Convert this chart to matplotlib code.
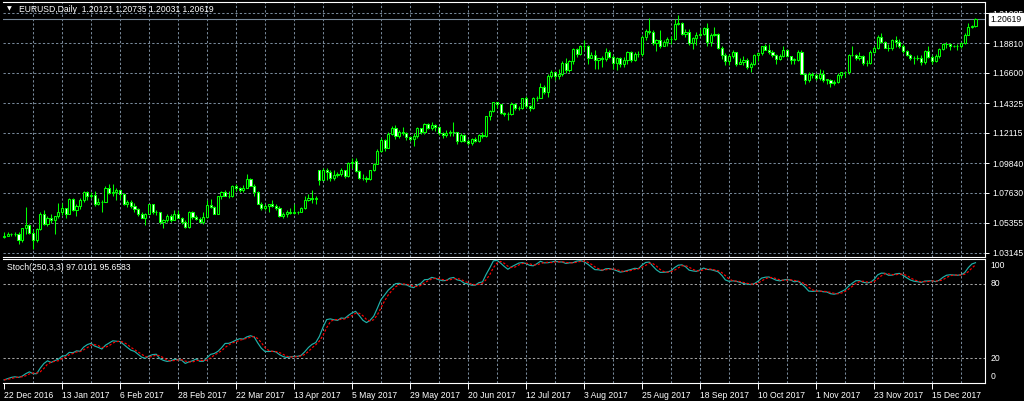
import matplotlib
matplotlib.use("Agg")
import matplotlib.pyplot as plt
import matplotlib.transforms as mtransforms
import numpy as np
import pandas as pd

# ---------------- data ----------------
symbol_title = "EURUSD,Daily  1.20121 1.20735 1.20031 1.20619"
stoch_title = "Stoch(250,3,3) 97.0101 95.6583"
date_labels = ["22 Dec 2016", "13 Jan 2017", "6 Feb 2017", "28 Feb 2017", "22 Mar 2017",
               "13 Apr 2017", "5 May 2017", "29 May 2017", "20 Jun 2017", "12 Jul 2017",
               "3 Aug 2017", "25 Aug 2017", "18 Sep 2017", "10 Oct 2017", "1 Nov 2017",
               "23 Nov 2017", "15 Dec 2017"]
price_ticks = [1.21085, 1.18810, 1.16600, 1.14325, 1.12115, 1.09840, 1.07630, 1.05355, 1.03145]
last_price = 1.20619
stoch_levels = [20, 80]

opens = [
1.0430,1.0440,1.0455,1.0456,1.0450,1.0410,1.0495,1.0517,1.0460,1.0405,
1.0487,1.0605,1.0530,1.0570,1.0555,1.0585,1.0615,1.0645,1.0605,1.0715,
1.0635,1.0660,1.0705,1.0765,1.0735,1.0745,1.0680,1.0695,1.0695,1.0798,
1.0760,1.0765,1.0785,1.0750,1.0680,1.0690,1.0665,1.0640,1.0600,1.0575,
1.0605,1.0675,1.0615,1.0615,1.0540,1.0560,1.0585,1.0560,1.0605,1.0575,
1.0545,1.0505,1.0620,1.0580,1.0565,1.0545,1.0580,1.0670,1.0655,1.0605,
1.0735,1.0765,1.0740,1.0740,1.0810,1.0795,1.0780,1.0800,1.0865,1.0815,
1.0765,1.0675,1.0650,1.0665,1.0675,1.0660,1.0645,1.0590,1.0600,1.0615,
1.0610,1.0615,1.0615,1.0645,1.0705,1.0720,1.0715,1.0935,1.0860,1.0930,
1.0920,1.0870,1.0895,1.0905,1.0930,1.0885,1.0985,1.1000,1.0925,1.0875,
1.0870,1.0865,1.0935,1.0980,1.1075,1.1160,1.1100,1.1205,1.1245,1.1185,
1.1215,1.1210,1.1180,1.1165,1.1185,1.1245,1.1215,1.1280,1.1250,1.1270,
1.1255,1.1210,1.1195,1.1210,1.1215,1.1215,1.1150,1.1195,1.1150,1.1135,
1.1165,1.1150,1.1195,1.1185,1.1335,1.1375,1.1440,1.1425,1.1360,1.1350,
1.1350,1.1425,1.1400,1.1400,1.1470,1.1415,1.1395,1.1470,1.1475,1.1555,
1.1515,1.1635,1.1665,1.1640,1.1650,1.1735,1.1680,1.1750,1.1840,1.1800,
1.1860,1.1865,1.1775,1.1795,1.1755,1.1770,1.1765,1.1820,1.1780,1.1735,
1.1770,1.1725,1.1760,1.1815,1.1760,1.1805,1.1800,1.1925,1.1975,1.1965,
1.1885,1.1905,1.1860,1.1890,1.1915,1.1915,1.2025,1.2035,1.1950,1.1965,
1.1885,1.1920,1.1945,1.1950,1.1995,1.1890,1.1940,1.1950,1.1845,1.1795,
1.1750,1.1785,1.1815,1.1730,1.1745,1.1760,1.1705,1.1730,1.1795,1.1810,
1.1860,1.1835,1.1820,1.1795,1.1765,1.1790,1.1835,1.1785,1.1760,1.1760,
1.1815,1.1655,1.1610,1.1650,1.1645,1.1620,1.1655,1.1610,1.1610,1.1585,
1.1590,1.1645,1.1665,1.1665,1.1795,1.1795,1.1770,1.1790,1.1735,1.1735,
1.1820,1.1850,1.1930,1.1895,1.1845,1.1845,1.1905,1.1895,1.1865,1.1825,
1.1795,1.1770,1.1770,1.1775,1.1740,1.1825,1.1780,1.1750,1.1785,1.1840,
1.1875,1.1875,1.1860,1.1865,1.1860,1.1885,1.1945,1.2005,1.20121]

highs = [
1.0470,1.0468,1.0460,1.0465,1.0470,1.0500,1.0653,1.0525,1.0485,1.0495,
1.0615,1.0630,1.0585,1.0605,1.0570,1.0685,1.0685,1.0650,1.0720,1.0720,
1.0680,1.0720,1.0775,1.0775,1.0770,1.0775,1.0725,1.0710,1.0810,1.0830,
1.0829,1.0795,1.0785,1.0760,1.0710,1.0705,1.0685,1.0650,1.0620,1.0610,
1.0680,1.0680,1.0630,1.0620,1.0565,1.0600,1.0600,1.0630,1.0630,1.0580,
1.0560,1.0625,1.0625,1.0595,1.0580,1.0615,1.0710,1.0715,1.0665,1.0740,
1.0775,1.0785,1.0775,1.0820,1.0825,1.0805,1.0820,1.0906,1.0875,1.0825,
1.0775,1.0690,1.0675,1.0680,1.0705,1.0680,1.0665,1.0620,1.0630,1.0650,
1.0675,1.0625,1.0655,1.0735,1.0750,1.0780,1.0740,1.0935,1.0950,1.0945,
1.0935,1.0935,1.0920,1.0950,1.0935,1.0990,1.1020,1.1025,1.0930,1.0905,
1.0885,1.0935,1.0985,1.1090,1.1170,1.1165,1.1215,1.1265,1.1268,1.1235,
1.1255,1.1215,1.1190,1.1210,1.1255,1.1250,1.1285,1.1285,1.1295,1.1280,
1.1260,1.1215,1.1230,1.1230,1.1295,1.1220,1.1210,1.1200,1.1165,1.1175,
1.1180,1.1205,1.1215,1.1340,1.1385,1.1445,1.1445,1.1430,1.1365,1.1365,
1.1440,1.1435,1.1415,1.1475,1.1490,1.1420,1.1480,1.1490,1.1585,1.1570,
1.1650,1.1680,1.1670,1.1690,1.1750,1.1775,1.1755,1.1845,1.1845,1.1870,
1.1910,1.1870,1.1815,1.1830,1.1775,1.1790,1.1845,1.1835,1.1795,1.1780,
1.1780,1.1780,1.1825,1.1825,1.1815,1.1825,1.1940,1.1985,1.2070,1.1980,
1.1915,1.1980,1.1905,1.1925,1.1935,1.2060,1.2092,1.2040,1.1985,1.1985,
1.1930,1.1965,1.1990,1.2005,1.2035,1.1960,1.2000,1.1960,1.1860,1.1810,
1.1805,1.1830,1.1820,1.1770,1.1790,1.1770,1.1745,1.1800,1.1820,1.1865,
1.1880,1.1875,1.1835,1.1800,1.1800,1.1860,1.1840,1.1790,1.1775,1.1830,
1.1835,1.1660,1.1665,1.1665,1.1660,1.1688,1.1680,1.1615,1.1615,1.1610,
1.1660,1.1670,1.1670,1.1805,1.1860,1.1805,1.1820,1.1795,1.1755,1.1830,
1.1860,1.1940,1.1960,1.1900,1.1880,1.1915,1.1935,1.1915,1.1875,1.1835,
1.1805,1.1785,1.1795,1.1795,1.1830,1.1860,1.1795,1.1805,1.1850,1.1885,
1.1890,1.1885,1.1870,1.1875,1.1895,1.1955,1.2030,1.2015,1.20735]

lows = [
1.0420,1.0435,1.0440,1.0440,1.0375,1.0395,1.0455,1.0455,1.0340,1.0390,
1.0480,1.0520,1.0510,1.0535,1.0453,1.0570,1.0595,1.0575,1.0600,1.0625,
1.0590,1.0640,1.0695,1.0705,1.0720,1.0660,1.0670,1.0620,1.0690,1.0755,
1.0740,1.0710,1.0715,1.0670,1.0655,1.0650,1.0620,1.0590,1.0570,1.0520,
1.0600,1.0605,1.0595,1.0525,1.0495,1.0545,1.0545,1.0555,1.0570,1.0525,
1.0495,1.0495,1.0565,1.0555,1.0535,1.0525,1.0575,1.0650,1.0600,1.0600,
1.0715,1.0735,1.0725,1.0730,1.0775,1.0765,1.0765,1.0795,1.0810,1.0740,
1.0675,1.0635,1.0630,1.0620,1.0655,1.0635,1.0580,1.0570,1.0580,1.0600,
1.0600,1.0605,1.0615,1.0640,1.0700,1.0685,1.0680,1.0820,1.0855,1.0860,
1.0850,1.0855,1.0880,1.0890,1.0870,1.0880,1.0950,1.0920,1.0865,1.0860,
1.0840,1.0860,1.0925,1.0975,1.1065,1.1075,1.1095,1.1195,1.1165,1.1175,
1.1195,1.1160,1.1150,1.1110,1.1175,1.1200,1.1200,1.1240,1.1230,1.1225,
1.1195,1.1170,1.1180,1.1185,1.1190,1.1130,1.1140,1.1140,1.1120,1.1120,
1.1140,1.1145,1.1175,1.1180,1.1310,1.1370,1.1395,1.1355,1.1335,1.1310,
1.1345,1.1385,1.1380,1.1390,1.1400,1.1375,1.1390,1.1450,1.1470,1.1500,
1.1480,1.1620,1.1610,1.1615,1.1640,1.1660,1.1665,1.1730,1.1780,1.1795,
1.1830,1.1730,1.1770,1.1690,1.1690,1.1705,1.1750,1.1775,1.1690,1.1680,
1.1705,1.1705,1.1730,1.1740,1.1750,1.1780,1.1790,1.1910,1.1950,1.1870,
1.1825,1.1850,1.1860,1.1865,1.1880,1.1905,1.2015,1.1945,1.1925,1.1870,
1.1840,1.1870,1.1935,1.1945,1.1860,1.1860,1.1935,1.1840,1.1765,1.1720,
1.1720,1.1770,1.1715,1.1725,1.1720,1.1690,1.1670,1.1720,1.1750,1.1795,
1.1835,1.1805,1.1780,1.1730,1.1755,1.1780,1.1780,1.1725,1.1730,1.1750,
1.1650,1.1575,1.1595,1.1620,1.1610,1.1610,1.1595,1.1575,1.1555,1.1570,
1.1585,1.1625,1.1630,1.1650,1.1785,1.1760,1.1760,1.1720,1.1715,1.1725,
1.1810,1.1840,1.1885,1.1845,1.1825,1.1830,1.1855,1.1850,1.1810,1.1790,
1.1755,1.1730,1.1760,1.1720,1.1730,1.1770,1.1730,1.1745,1.1770,1.1830,
1.1850,1.1835,1.1855,1.1835,1.1850,1.1880,1.1940,1.1995,1.20031]

closes = [
1.0440,1.0455,1.0456,1.0450,1.0410,1.0495,1.0517,1.0460,1.0405,1.0487,
1.0605,1.0530,1.0570,1.0555,1.0585,1.0615,1.0645,1.0605,1.0715,1.0635,
1.0660,1.0705,1.0765,1.0735,1.0745,1.0680,1.0695,1.0695,1.0798,1.0760,
1.0765,1.0785,1.0750,1.0680,1.0690,1.0665,1.0640,1.0600,1.0575,1.0605,
1.0675,1.0615,1.0615,1.0540,1.0560,1.0585,1.0560,1.0605,1.0575,1.0545,
1.0505,1.0620,1.0580,1.0565,1.0545,1.0580,1.0670,1.0655,1.0605,1.0735,
1.0765,1.0740,1.0740,1.0810,1.0795,1.0780,1.0800,1.0865,1.0815,1.0765,
1.0675,1.0650,1.0665,1.0675,1.0660,1.0645,1.0590,1.0600,1.0615,1.0610,
1.0615,1.0615,1.0645,1.0705,1.0720,1.0715,1.0725,1.0860,1.0930,1.0920,
1.0870,1.0895,1.0905,1.0930,1.0885,1.0985,1.0995,1.0925,1.0875,1.0870,
1.0865,1.0935,1.0980,1.1075,1.1160,1.1100,1.1205,1.1245,1.1185,1.1215,
1.1210,1.1180,1.1165,1.1185,1.1245,1.1215,1.1280,1.1250,1.1270,1.1255,
1.1210,1.1195,1.1210,1.1215,1.1215,1.1150,1.1195,1.1150,1.1135,1.1165,
1.1150,1.1195,1.1185,1.1335,1.1375,1.1440,1.1425,1.1360,1.1350,1.1350,
1.1425,1.1400,1.1400,1.1470,1.1415,1.1395,1.1470,1.1475,1.1555,1.1515,
1.1635,1.1665,1.1640,1.1650,1.1735,1.1680,1.1750,1.1840,1.1800,1.1860,
1.1865,1.1775,1.1795,1.1755,1.1770,1.1765,1.1820,1.1780,1.1735,1.1770,
1.1725,1.1760,1.1815,1.1760,1.1805,1.1800,1.1925,1.1975,1.1965,1.1885,
1.1905,1.1860,1.1890,1.1915,1.1915,1.2025,1.2035,1.1950,1.1965,1.1885,
1.1920,1.1945,1.1950,1.1995,1.1890,1.1940,1.1950,1.1845,1.1795,1.1750,
1.1785,1.1815,1.1730,1.1745,1.1760,1.1705,1.1730,1.1795,1.1810,1.1860,
1.1835,1.1820,1.1795,1.1765,1.1790,1.1835,1.1785,1.1760,1.1760,1.1815,
1.1655,1.1610,1.1650,1.1645,1.1620,1.1655,1.1610,1.1610,1.1585,1.1590,
1.1645,1.1665,1.1665,1.1795,1.1795,1.1770,1.1790,1.1735,1.1735,1.1820,
1.1850,1.1930,1.1895,1.1845,1.1845,1.1905,1.1895,1.1865,1.1825,1.1795,
1.1770,1.1770,1.1775,1.1740,1.1825,1.1780,1.1750,1.1785,1.1840,1.1875,
1.1875,1.1860,1.1865,1.1860,1.1885,1.1945,1.2005,1.2012,1.20619]

stoch_k = [
2.5,3.5,4.5,5.0,4.5,5.5,7.5,9.0,7.5,7.5,
12.0,15.7,17.9,16.6,18.0,19.2,21.6,22.1,24.7,24.4,
25.9,25.6,29.0,31.0,32.0,29.8,28.7,27.4,30.5,32.2,
34.0,33.7,33.4,31.2,28.7,26.5,25.5,23.1,20.8,19.9,
21.8,22.9,23.2,19.6,18.2,17.4,17.9,19.1,18.8,18.4,
15.8,17.0,17.9,19.4,17.5,17.5,20.3,23.1,23.8,25.5,
28.4,31.9,32.0,33.1,34.6,35.7,35.4,37.2,38.1,37.2,
32.3,28.0,25.4,25.4,25.6,25.1,22.9,21.3,20.5,21.1,
21.5,21.5,22.4,25.3,28.7,31.2,32.6,37.6,44.9,51.1,
51.7,51.0,50.5,52.4,52.1,54.5,56.5,57.8,54.4,50.6,
48.7,50.6,53.9,60.4,67.3,71.0,74.9,77.5,80.1,80.4,
79.4,79.2,77.7,76.9,78.9,80.4,83.3,83.5,85.2,84.4,
83.2,82.5,82.7,84.5,85.1,83.2,82.5,80.4,79.9,78.9,
78.9,80.9,81.5,87.6,92.8,98.5,98.9,96.7,94.0,91.7,
93.7,95.2,96.7,97.1,96.3,94.9,94.5,96.2,98.2,96.9,
97.0,97.4,98.3,97.6,97.6,96.4,96.9,97.1,98.3,98.7,
97.8,95.9,93.7,91.4,91.3,90.7,92.1,92.3,91.6,90.6,
89.4,89.9,90.8,91.6,92.5,92.2,95.1,97.2,97.5,94.2,
91.2,89.2,89.3,89.5,90.5,93.1,95.0,95.3,93.8,91.0,
90.4,90.0,91.2,92.7,91.6,91.4,90.6,89.7,86.9,83.1,
82.0,82.4,82.0,81.2,80.2,79.7,79.4,80.1,82.1,84.6,
85.3,85.5,84.3,82.9,82.4,83.1,83.5,83.0,81.6,82.1,
80.1,77.3,74.1,73.9,74.1,74.2,73.6,73.4,72.0,71.6,
72.3,73.8,75.2,78.1,80.5,82.5,82.5,81.3,80.7,81.2,
83.4,87.2,88.6,88.5,86.9,87.0,88.0,88.4,86.9,84.9,
83.1,82.1,81.7,81.1,82.2,82.3,82.5,81.7,82.9,85.2,
86.9,87.3,87.1,86.9,87.3,88.9,93.0,96.0,97.0]

# ---------------- style ----------------
BG = "black"
FG = "white"
GRID = "#778899"
LIME = "#00ff00"
FONT = ["Liberation Sans", "DejaVu Sans"]
FS = 6.2

W, H = 1024, 401
fig = plt.figure(figsize=(W / 100, H / 100), dpi=100, facecolor=BG)


def frac(l, t, r, b):
    return [l / W, 1 - b / H, (r - l) / W, (b - t) / H]


ax = fig.add_axes(frac(3, 2, 985, 257))
ax2 = fig.add_axes(frac(3, 259, 985, 383))

n = len(closes)
idx = np.arange(n)
o = np.array(opens)
c = np.array(closes)
hi = np.array(highs)
lo = np.array(lows)

px_per_bar = 3.625
x0 = -(4 - 3) / px_per_bar
x1 = (985 - 4) / px_per_bar
ylo, yhi = 1.02808, 1.21909

for a in (ax, ax2):
    a.set_facecolor(BG)
    a.set_xlim(x0, x1)
    for s in a.spines.values():
        s.set_color(FG)
        s.set_linewidth(0.8)
    a.spines["left"].set_visible(False)

dash = (0, (2.2, 2.0))

# grid main
for p in price_ticks:
    ax.axhline(p, color=GRID, lw=0.75, ls=dash, zorder=1)
for b in range(8, n + 8, 8):
    ax.axvline(b, color=GRID, lw=0.75, ls=dash, zorder=1)
    ax2.axvline(b, color=GRID, lw=0.75, ls=dash, zorder=1)

# bid line
ax.axhline(last_price, color=GRID, lw=0.8, zorder=2)

# candles
ax.vlines(idx, lo, hi, color=LIME, lw=0.75, zorder=3)
bull = c >= o
body_bottom = np.minimum(o, c)
body_h = np.maximum(np.abs(c - o), 0.00005)
face = np.where(bull, "black", "white")
ax.bar(idx, body_h, bottom=body_bottom, width=0.62, color=face,
       edgecolor=LIME, linewidth=0.75, zorder=4)

ax.set_ylim(ylo, yhi)
ax.yaxis.tick_right()
ax.set_yticks(price_ticks)
ax.set_yticklabels([f"{p:.5f}" for p in price_ticks])
ax.tick_params(axis="y", colors=FG, labelcolor=FG, length=3, width=0.7,
               pad=2, labelsize=FS, direction="out")
for t in ax.get_yticklabels():
    t.set_fontfamily(FONT)
ax.set_xticks([])

# current price label (drawn over the top tick label, as in the terminal)
trans = mtransforms.blended_transform_factory(ax.transAxes, ax.transData)
ax.text(1.0055, last_price, f"{last_price:.5f}", transform=trans, fontsize=FS,
        family=FONT, color="black", va="center", ha="left",
        bbox=dict(boxstyle="square,pad=0.15", fc="white", ec="white"), zorder=10,
        clip_on=False)

# title
ax.text(0.004, 0.972, "\u25bc", transform=ax.transAxes, fontsize=4.5,
        family=["DejaVu Sans"], color=FG, va="center", ha="left")
ax.text(0.0165, 0.972, symbol_title, transform=ax.transAxes, fontsize=FS,
        family=FONT, color=FG, va="center", ha="left")

# stochastic
k = pd.Series(stoch_k)
d = k.rolling(3, min_periods=1).mean()
for lv in stoch_levels:
    ax2.axhline(lv, color="#a0a0a0", lw=0.75, ls=dash, zorder=1)
ax2.plot(idx, k.values, color="#20b2aa", lw=0.85, zorder=3)
ax2.plot(idx, d.values, color="red", lw=0.85, ls=(0, (2.0, 1.5)), zorder=4)
ax2.set_ylim(0, 100)
ax2.set_yticks([])

trans2 = mtransforms.blended_transform_factory(ax2.transAxes, ax2.transData)
for val, lab, va in [(100, "100", "top"), (80, "80", "center"),
                     (20, "20", "center"), (0, "0", "bottom")]:
    off = -1.5 if va == "top" else (2.0 if va == "bottom" else 0)
    ax2.text(1.0055, val + off, lab, transform=trans2, fontsize=FS, family=FONT,
             color=FG, va=va, ha="left", clip_on=False)

ax2.text(0.004, 0.93, stoch_title, transform=ax2.transAxes, fontsize=FS,
         family=FONT, color=FG, va="center", ha="left")

tick_pos = list(range(0, 16 * len(date_labels), 16))
ax2.set_xticks(tick_pos)
ax2.set_xticklabels(date_labels)
ax2.tick_params(axis="x", colors=FG, labelcolor=FG, length=4, width=0.7,
                pad=1.5, labelsize=FS, direction="out")
for t in ax2.get_xticklabels():
    t.set_ha("left")
    t.set_fontfamily(FONT)

fig.savefig("out.png", dpi=100, facecolor=BG)
